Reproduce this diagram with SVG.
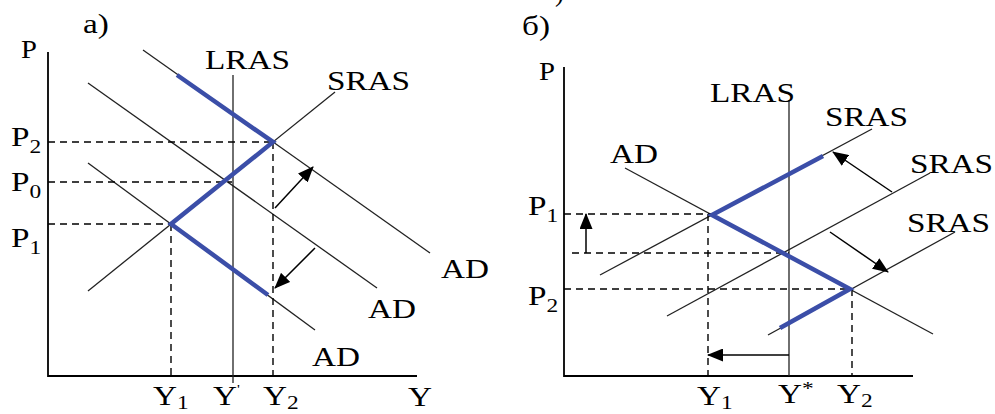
<svg xmlns="http://www.w3.org/2000/svg" width="995" height="414" viewBox="0 0 995 414">
<style>
text{font-family:"Liberation Serif","Times New Roman",serif;font-size:27px;fill:#000}
.ax{stroke:#000;stroke-width:1.8;fill:none}
.ln{stroke:#222;stroke-width:1.3;fill:none}
.ds{stroke:#000;stroke-width:1.4;stroke-dasharray:7 5;fill:none}
.bl{stroke:#3b4ea8;stroke-width:4.5;fill:none;stroke-linejoin:miter}
.ar{stroke:#000;stroke-width:1.5;fill:none;marker-end:url(#ah)}
.sub{font-size:19px}
</style>
<defs>
<marker id="ah" markerWidth="16" markerHeight="13" refX="15" refY="6.5" orient="auto" markerUnits="userSpaceOnUse"><path d="M0,0 L16,6.5 L0,13 Z" fill="#000"/></marker>
</defs>
<rect width="995" height="414" fill="#fff"/>

<!-- Panel a -->
<g id="panel-a-axes">
<path class="ax" d="M48,52 V376 H417"/>
<text transform="translate(21,58) scale(1.1,1)" style="font-size:26px">P</text>
<text transform="translate(408,406) scale(1.23,1)">Y</text>
<text transform="translate(83,33) scale(1.23,1)">а)</text>
</g>
<g id="a-lras">
<path class="ln" d="M233,75 V383"/>
<text transform="translate(205,69) scale(1.23,1)">LRAS</text>
</g>
<g id="a-sras">
<path class="ln" d="M88,291 L335,92"/>
<text transform="translate(327,90) scale(1.23,1)">SRAS</text>
</g>
<g id="a-ad-top">
<path class="ln" d="M143,50 L430,253"/>
<text transform="translate(441,278) scale(1.23,1)">AD</text>
</g>
<g id="a-ad-mid">
<path class="ln" d="M88,83 L377,288"/>
<text transform="translate(368,318) scale(1.23,1)">AD</text>
</g>
<g id="a-ad-bottom">
<path class="ln" d="M88,163 L315,330"/>
<text transform="translate(312,366) scale(1.23,1)">AD</text>
</g>
<g id="a-levels">
<path class="ds" d="M48,142 H273 M48,182 H232 M48,224 H171 M171,224 V376 M273,142 V376"/>
<text transform="translate(11,146) scale(1.23,1)">P<tspan class="sub" dy="7">2</tspan></text>
<text transform="translate(11,191) scale(1.23,1)">P<tspan class="sub" dy="7">0</tspan></text>
<text transform="translate(11,247) scale(1.23,1)">P<tspan class="sub" dy="7">1</tspan></text>
<text transform="translate(153,405) scale(1.23,1)">Y<tspan class="sub" dy="4">1</tspan></text>
<text transform="translate(213,405) scale(1.23,1)">Y<tspan style="font-size:13px" dy="-12">'</tspan></text>
<text transform="translate(263,405) scale(1.23,1)">Y<tspan class="sub" dy="4">2</tspan></text>
</g>
<g id="a-path">
<path class="bl" d="M177,75 L273,142 L171,224 L268,295"/>
</g>
<g id="a-arrows">
<path class="ar" d="M275,208 L313,167"/>
<path class="ar" d="M315,248 L275,288"/>
</g>

<!-- Panel b -->
<text x="555" y="1" style="font-size:27px">)</text>
<g id="panel-b-axes">
<path class="ax" d="M564,67 V376 H913"/>
<text transform="translate(539,80) scale(1.15,1)" style="font-size:25px">P</text>
<text transform="translate(522,35) scale(1.23,1)">б)</text>
</g>
<g id="b-lras">
<path class="ln" d="M789,100 V376"/>
<text transform="translate(710,102) scale(1.23,1)">LRAS</text>
</g>
<g id="b-ad">
<path class="ln" d="M625,168 L933,334"/>
<text transform="translate(610,163) scale(1.23,1)">AD</text>
</g>
<g id="b-sras-1">
<path class="ln" d="M600,275 L872,129"/>
<text transform="translate(825,126) scale(1.23,1)">SRAS</text>
</g>
<g id="b-sras-2">
<path class="ln" d="M667,316 L930,173"/>
<text transform="translate(910,173) scale(1.23,1)">SRAS</text>
</g>
<g id="b-sras-3">
<path class="ln" d="M768,335 L955,232"/>
<text transform="translate(907,232) scale(1.23,1)">SRAS</text>
</g>
<g id="b-levels">
<path class="ds" d="M564,214 H712 M572,253 H789 M564,289 H851 M708,214 V376 M852,289 V376"/>
<text transform="translate(528,215) scale(1.23,1)">P<tspan class="sub" dy="7">1</tspan></text>
<text transform="translate(528,305) scale(1.23,1)">P<tspan class="sub" dy="7">2</tspan></text>
<text transform="translate(697,405) scale(1.23,1)">Y<tspan class="sub" dy="4">1</tspan></text>
<text transform="translate(778,403) scale(1.23,1)">Y<tspan class="sub" dy="-8">*</tspan></text>
<text transform="translate(837,403) scale(1.23,1)">Y<tspan class="sub" dy="4">2</tspan></text>
</g>
<g id="b-path">
<path class="bl" d="M823,156 L712,215 L850,289 L780,328"/>
</g>
<g id="b-arrows">
<path class="ar" d="M586,253 V214"/>
<path class="ar" d="M789,355 H708"/>
<path class="ar" d="M892,192 L833,152"/>
<path class="ar" d="M830,232 L888,272"/>
</g>
</svg>
